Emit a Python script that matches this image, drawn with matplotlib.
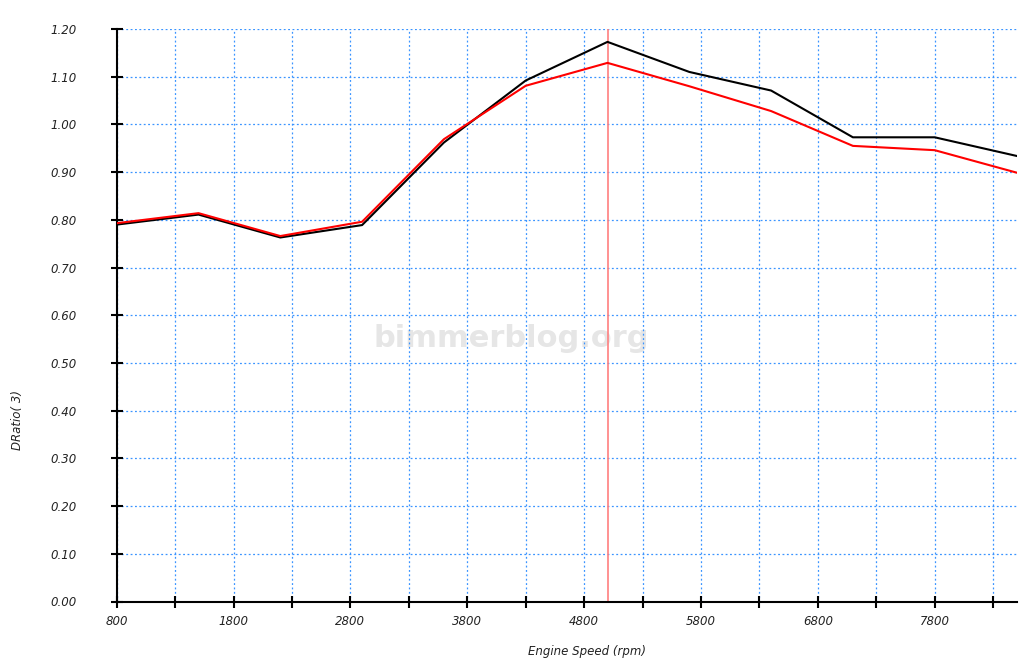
import matplotlib
matplotlib.use("Agg")
import matplotlib.pyplot as plt
import numpy as np

rpm = [800, 1500, 2200, 2900, 3600, 4300, 5000, 5700, 6400, 7100, 7800, 8500]
black_ratio = [0.790, 0.811, 0.763, 0.789, 0.962, 1.092, 1.173, 1.110, 1.071, 0.973, 0.973, 0.934]
red_ratio = [0.793, 0.814, 0.766, 0.796, 0.969, 1.081, 1.129, 1.080, 1.028, 0.955, 0.946, 0.899]
marker_rpm = 5000
x_tick_labels = ["800", "1800", "2800", "3800", "4800", "5800", "6800", "7800"]

W, H = 1024, 667
fig = plt.figure(figsize=(W / 100, H / 100), dpi=100)
left, right, top, bottom = 116.7, 1016.5, 29.0, 601.5
ax = fig.add_axes([left / W, 1 - bottom / H, (right - left) / W, (bottom - top) / H])

ax.set_xlim(800, 8500)
ax.set_ylim(0, 1.20)

fam = ["DejaVu Sans"]
ax.text(0.439, 0.46, "bimmerblog.org", transform=ax.transAxes, ha="center", va="center",
        fontsize=22, fontweight="bold", color="#e6e6e6", family="DejaVu Sans", zorder=0)

ax.axvline(marker_rpm, color="#ff7f7f", lw=1.2, zorder=2)
ax.plot(rpm, black_ratio, color="black", lw=1.5, zorder=3)
ax.plot(rpm, red_ratio, color="#ff0000", lw=1.5, zorder=4)

xt = np.arange(800, 8500, 500)
ax.set_xticks(xt)
lbls = []
for v in xt:
    s = str(int(v))
    lbls.append(s if s in x_tick_labels else "")
ax.set_xticklabels(lbls)
yt = np.round(np.arange(0, 1.2001, 0.1), 2)
ax.set_yticks(yt)
ax.set_yticklabels([f"{v:.2f}" for v in yt])

ax.grid(True, color="#3a94ff", linestyle=(0, (1.5, 2)), lw=0.9, zorder=1)
for s in ["top", "right"]:
    ax.spines[s].set_visible(False)
for s in ["left", "bottom"]:
    ax.spines[s].set_linewidth(1.5)
    ax.spines[s].set_color("black")
ax.tick_params(axis="x", direction="inout", length=8, width=1.5, pad=6, labelsize=8.5)
ax.tick_params(axis="y", direction="inout", length=8, width=1.5, pad=25, labelsize=8.5)
for lab in ax.get_xticklabels() + ax.get_yticklabels():
    lab.set_fontstyle("italic")
    lab.set_family(fam)
    lab.set_color("#222222")

fig.text(17 / W, 1 - 420 / H, "DRatio( 3)", rotation=90, ha="center", va="center",
         fontsize=8.5, style="italic", family=fam, color="#222222")
fig.text(587 / W, 1 - 651 / H, "Engine Speed (rpm)", ha="center", va="center",
         fontsize=8.5, style="italic", family=fam, color="#222222")

fig.savefig("out.png", dpi=100, facecolor="white")
